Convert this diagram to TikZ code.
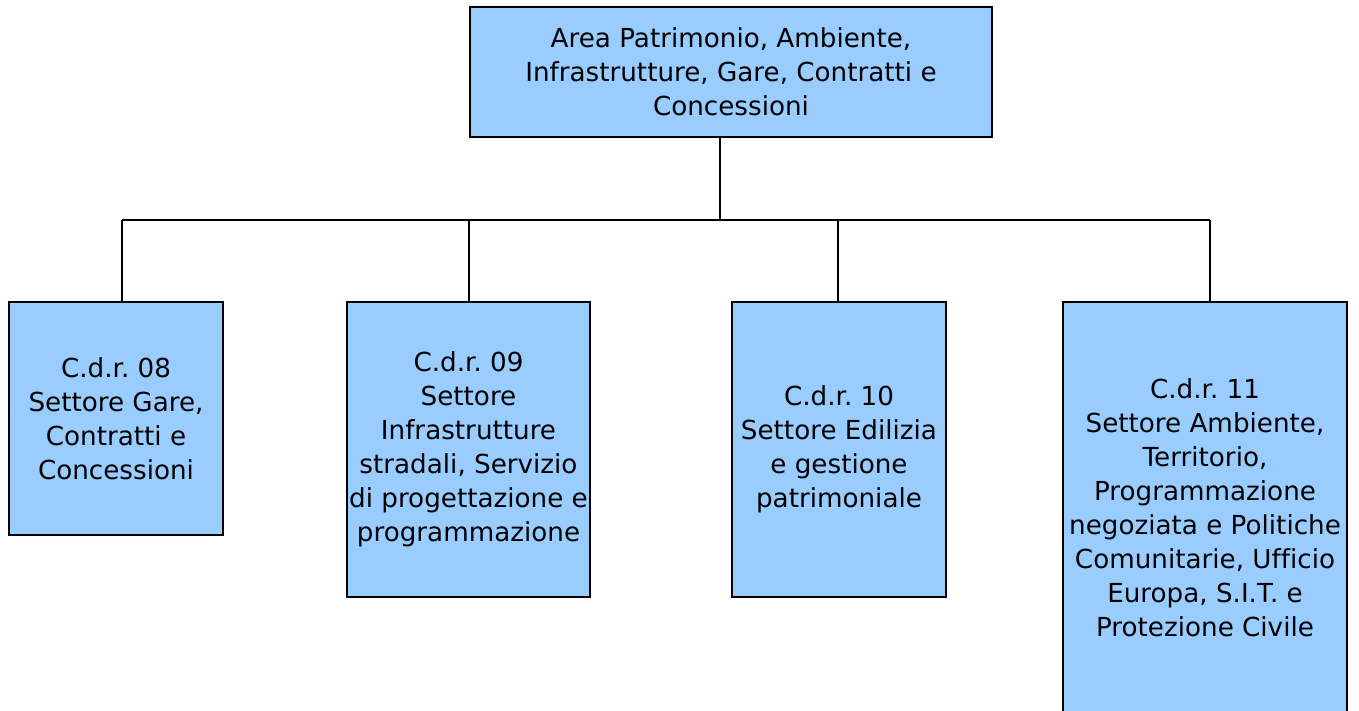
\documentclass[tikz,border=0pt]{standalone}
\usepackage{fontspec}
\setmainfont{DejaVu Sans}[Ligatures=NoCommon]
\usetikzlibrary{positioning}

\definecolor{boxblue}{HTML}{99CCFF}

\begin{document}
\frenchspacing
\begin{tikzpicture}[
    x=1pt, y=-1pt,
    unit/.style={draw=black, fill=boxblue, line width=2pt, inner sep=0pt,
        align=center, font=\fontsize{26.2}{34}\selectfont},
    link/.style={line width=2pt, black}
]
\useasboundingbox (0,0) rectangle (1359,710);

% Area
\node[unit, minimum width=522pt, minimum height=130pt] (area) at (731,72)
    {Area Patrimonio, Ambiente,\\Infrastrutture, Gare, Contratti e\\Concessioni};

% Settori
\node[unit, minimum width=214pt, minimum height=233pt] (g08) at (116,418.5)
    {C.d.r. 08\\Settore Gare,\\Contratti e\\Concessioni};
\node[unit, minimum width=243pt, minimum height=295pt] (g09) at (468.5,449.5)
    {C.d.r. 09\\Settore\\Infrastrutture\\stradali, Servizio\\di progettazione e\\programmazione};
\node[unit, minimum width=214pt, minimum height=295pt] (g10) at (839,449.5)
    {C.d.r. 10\\Settore Edilizia\\e gestione\\patrimoniale};
\node[unit, minimum width=284pt, minimum height=412pt] (g11) at (1205,508)
    {C.d.r. 11\\Settore Ambiente,\\Territorio,\\Programmazione\\negoziata e Politiche\\Comunitarie, Ufficio\\Europa, S.I.T. e\\Protezione Civile};

% Bus
\coordinate (bus) at (720,220);
\coordinate (j08) at (122,220);
\coordinate (j09) at (469,220);
\coordinate (j10) at (838,220);
\coordinate (j11) at (1210,220);

\draw[link] (area.south -| bus) -- (bus);
\draw[link] (j08) -- (j11);
\draw[link] (j08) -- (j08 |- g08.north);
\draw[link] (j09) -- (j09 |- g09.north);
\draw[link] (j10) -- (j10 |- g10.north);
\draw[link] (j11) -- (j11 |- g11.north);

\end{tikzpicture}
\end{document}
